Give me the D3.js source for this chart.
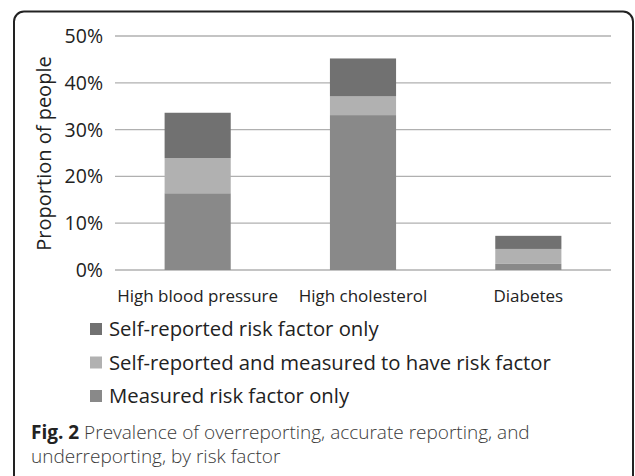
<!DOCTYPE html>
<html><head><meta charset="utf-8">
<script src="https://cdn.jsdelivr.net/npm/d3@7"></script>
<style>html,body{margin:0;padding:0;background:#fff;} svg{display:block;font-family:"Open Sans",sans-serif;}</style>
</head><body>
<svg id="c" width="635" height="476"></svg>
<script>
const categories = ["High blood pressure", "High cholesterol", "Diabetes"];
const seriesNames = ["Measured risk factor only", "Self-reported and measured to have risk factor", "Self-reported risk factor only"];
const measuredOnly = [16.4, 33.1, 1.3];
const selfAndMeasured = [7.5, 4.0, 3.2];
const selfOnly = [9.7, 8.1, 2.8];
const yTicks = [0, 10, 20, 30, 40, 50];
const colors = ["#898989", "#b1b1b1", "#717171"];
const legendOrder = [2, 1, 0];

const svg = d3.select("#c");
// frame
svg.append("rect").attr("x",14).attr("y",11.5).attr("width",619).attr("height",500)
  .attr("rx",10).attr("fill","none").attr("stroke","#222").attr("stroke-width",2);

const x = d3.scaleBand().domain(categories).range([115,611]).paddingInner(0.6).paddingOuter(0.3);
const y = d3.scaleLinear().domain([0,50]).range([270,36]);

// gridlines
svg.append("g").selectAll("line").data(yTicks).join("line")
  .attr("x1",115).attr("x2",611).attr("y1",d=>y(d)).attr("y2",d=>y(d))
  .attr("stroke","#b0b0b0").attr("stroke-width",1.3);

// y tick labels
svg.append("g").selectAll("text").data(yTicks).join("text")
  .attr("x",103).attr("y",d=>y(d)).attr("dy","0.36em").attr("text-anchor","end")
  .attr("font-size",19.5).attr("fill","#222").text(d=>d+"%");

// stacked data
const rows = categories.map((c,i)=>({cat:c, s0:measuredOnly[i], s1:selfAndMeasured[i], s2:selfOnly[i]}));
const stack = d3.stack().keys(["s0","s1","s2"])(rows);
svg.append("g").selectAll("g").data(stack).join("g").attr("fill",(d,i)=>colors[i])
  .selectAll("rect").data(d=>d).join("rect")
  .attr("x",d=>x(d.data.cat)).attr("width",x.bandwidth())
  .attr("y",d=>y(d[1])).attr("height",d=>y(d[0])-y(d[1]));

// category labels
svg.append("g").selectAll("text").data(categories).join("text")
  .attr("x",d=>x(d)+x.bandwidth()/2).attr("y",302).attr("text-anchor","middle")
  .attr("font-size",17).attr("fill","#222").text(d=>d);

// y axis title
svg.append("text").attr("transform","translate(51,153.5) rotate(-90)")
  .attr("text-anchor","middle").attr("font-size",20).attr("fill","#222").text("Proportion of people");

// legend
const lg = svg.append("g").selectAll("g").data(legendOrder).join("g")
  .attr("transform",(d,i)=>`translate(90,${329 + i*33.5})`);
lg.append("rect").attr("x",0).attr("y",-6).attr("width",12).attr("height",12).attr("fill",d=>colors[d]);
lg.append("text").attr("x",19).attr("y",7).attr("font-size",20.3).attr("fill","#222").text(d=>seriesNames[d]);

// caption
const cap = svg.append("text").attr("x",31).attr("y",438.5).attr("font-size",19).attr("fill","#3a3a3a");
cap.append("tspan").attr("font-weight","bold").attr("fill","#222").text("Fig. 2");
cap.append("tspan").attr("font-weight",300).text(" Prevalence of overreporting, accurate reporting, and");
svg.append("text").attr("x",31).attr("y",463).attr("font-size",19).attr("font-weight",300).attr("fill","#3a3a3a")
  .text("underreporting, by risk factor");
</script>
</body></html>
